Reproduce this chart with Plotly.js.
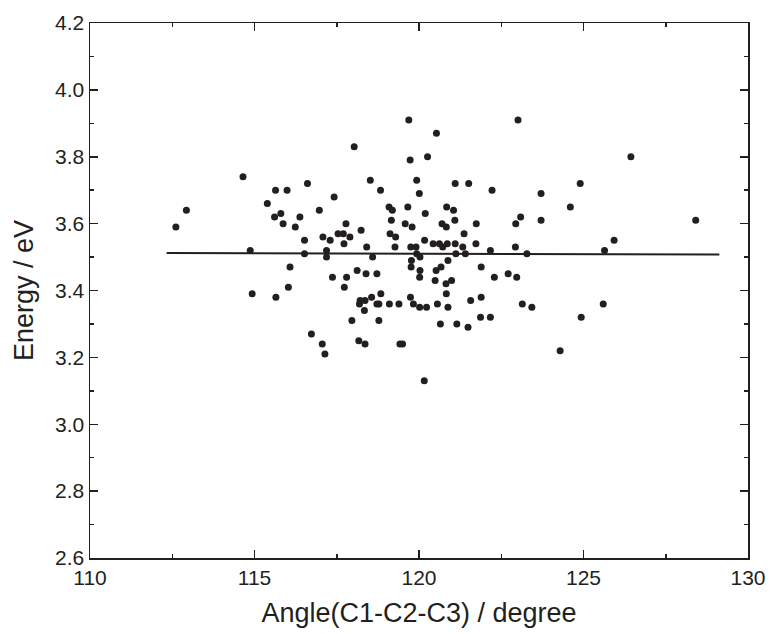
<!DOCTYPE html>
<html>
<head>
<meta charset="utf-8">
<script src="https://cdn.plot.ly/plotly-3.0.1.min.js"></script>
<style>html,body{margin:0;padding:0;background:#fff;}#chart{width:774px;height:634px;}</style>
</head>
<body>
<div id="chart"></div>
<script>
const angle = [
112.61,112.93,114.65,114.87,114.93,115.39,115.64,115.61,115.65,115.80,
115.87,115.99,116.08,116.03,116.24,116.38,116.52,116.52,116.61,116.73,
116.97,117.08,117.06,117.14,117.19,117.19,117.30,117.37,117.42,117.54,
117.70,117.72,117.73,117.78,117.80,117.90,117.96,118.03,118.12,118.17,
118.19,118.24,118.21,118.36,118.34,118.36,118.39,118.41,118.52,118.56,
118.59,118.72,118.72,118.78,118.78,118.83,118.84,119.09,119.12,119.16,
119.19,119.10,119.27,119.29,119.39,119.42,119.50,119.58,119.66,119.69,
119.73,119.75,119.77,119.76,119.74,119.79,119.83,119.91,119.93,119.93,
120.01,120.03,120.02,120.03,120.02,120.16,120.17,120.19,120.23,120.26,
120.43,120.49,120.52,120.56,120.53,120.62,120.65,120.67,120.70,120.72,
120.82,120.83,120.84,120.86,120.83,120.88,120.88,120.99,121.05,121.09,
121.10,121.10,121.12,121.15,121.33,121.37,121.41,121.49,121.51,121.57,
121.73,121.74,121.89,121.89,121.87,122.17,122.17,122.22,122.29,122.71,
122.93,122.94,122.97,123.01,123.09,123.14,123.28,123.43,123.71,123.71,
124.29,124.60,124.90,124.93,125.60,125.64,125.93,126.44,128.41
];
const energy = [
3.59,3.64,3.74,3.52,3.39,3.66,3.70,3.62,3.38,3.63,
3.60,3.70,3.47,3.41,3.59,3.62,3.55,3.51,3.72,3.27,
3.64,3.56,3.24,3.21,3.52,3.50,3.55,3.44,3.68,3.57,
3.57,3.54,3.41,3.60,3.44,3.56,3.31,3.83,3.46,3.25,
3.36,3.58,3.37,3.37,3.34,3.24,3.45,3.53,3.73,3.38,
3.50,3.45,3.36,3.36,3.31,3.70,3.39,3.65,3.57,3.61,
3.64,3.36,3.53,3.56,3.36,3.24,3.24,3.60,3.65,3.91,
3.79,3.53,3.49,3.47,3.38,3.59,3.36,3.53,3.73,3.51,
3.69,3.50,3.44,3.46,3.35,3.13,3.55,3.63,3.35,3.80,
3.54,3.43,3.46,3.36,3.87,3.54,3.30,3.47,3.60,3.53,
3.42,3.59,3.65,3.54,3.39,3.49,3.35,3.43,3.64,3.61,
3.54,3.72,3.51,3.30,3.53,3.57,3.51,3.29,3.72,3.37,
3.54,3.60,3.47,3.38,3.32,3.52,3.32,3.70,3.44,3.45,
3.53,3.60,3.44,3.91,3.62,3.36,3.51,3.35,3.61,3.69,
3.22,3.65,3.72,3.32,3.36,3.52,3.55,3.80,3.61
];
const fitX = [112.33, 129.13];
const fitY = [3.512, 3.508];

const ink = '#231f20';
const font = 'Liberation Sans, Arial, Helvetica, sans-serif';

const traces = [
  {x: angle, y: energy, type: 'scatter', mode: 'markers',
   marker: {size: 7, color: ink}, showlegend: false, hoverinfo: 'skip'},
  {x: fitX, y: fitY, type: 'scatter', mode: 'lines',
   line: {color: ink, width: 2}, showlegend: false, hoverinfo: 'skip'}
];

const axisBase = {
  showgrid: false, zeroline: false, showline: true, linecolor: ink, linewidth: 1.5,
  mirror: 'ticks', ticks: 'inside', ticklen: 8, tickwidth: 1.5, tickcolor: ink,
  tickfont: {family: font, size: 21, color: '#231f20'}
};

const layout = {
  width: 774, height: 634,
  margin: {l: 90, r: 26, t: 23, b: 76},
  paper_bgcolor: '#fff', plot_bgcolor: '#fff',
  xaxis: Object.assign({}, axisBase, {
    range: [110, 130], tick0: 110, dtick: 5,
    minor: {ticks: 'inside', ticklen: 4, tickwidth: 1.5, tickcolor: ink, dtick: 2.5},
    title: {text: 'Angle(C1-C2-C3) / degree', font: {family: font, size: 27, color: ink}, standoff: 15}
  }),
  yaxis: Object.assign({}, axisBase, {
    range: [2.6, 4.2], tick0: 2.6, dtick: 0.2, tickformat: '.1f',
    minor: {ticks: 'inside', ticklen: 4, tickwidth: 1.5, tickcolor: ink, dtick: 0.1},
    title: {text: 'Energy / eV', font: {family: font, size: 27, color: ink}, standoff: 13}
  })
};

Plotly.newPlot('chart', traces, layout, {staticPlot: true, displayModeBar: false});
</script>
</body>
</html>
